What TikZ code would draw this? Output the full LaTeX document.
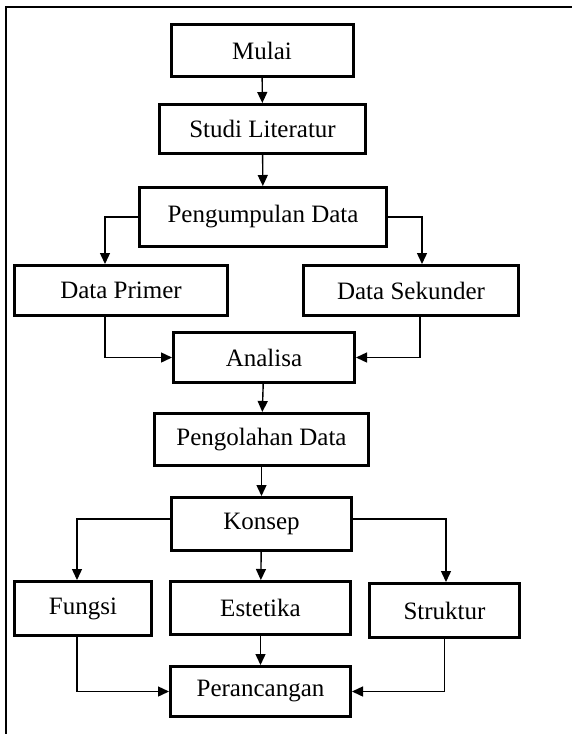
\documentclass[tikz,border=0pt]{standalone}
\usepackage{fontspec}
\setmainfont{Liberation Serif}
\usetikzlibrary{arrows.meta}
\usetikzlibrary{positioning}

\tikzset{
    box/.style={draw, line width=3pt, inner sep=0pt, font=\fontsize{25}{30}\selectfont},
    conn/.style={line width=1.4pt, -{Triangle[length=11pt,width=10pt]}}
}

\begin{document}
\begin{tikzpicture}[x=1pt,y=-1pt]
    \useasboundingbox (0,0) rectangle (571,734);
    \draw[line width=1.8pt] (580,7) -- (6,7) -- (6,745);

    \node[box, minimum width=182, minimum height=52] (mulai) at (262,50.5){Mulai};
    \node[box, minimum width=206, minimum height=49] (studi) at (262.5,129){Studi Literatur};
    \node[box, minimum width=247, minimum height=59] (kumpul) at (263,217){Pengumpulan Data};
    \node[box, minimum width=213, minimum height=50] (primer) at (121,290.5){Data Primer};
    \node[box, minimum width=215, minimum height=50] (sekunder) at (411,290.5){Data Sekunder};
    \node[box, minimum width=181, minimum height=50] (analisa) at (264,357.5){Analisa};
    \node[box, minimum width=214, minimum height=52] (olah) at (261.5,439.5){Pengolahan Data};
    \node[box, minimum width=180, minimum height=53] (konsep) at (261.5,524){Konsep};
    \node[box, minimum width=137, minimum height=54] (fungsi) at (83,608.5){Fungsi};
    \node[box, minimum width=180, minimum height=53] (estetika) at (260.5,608){Estetika};
    \node[box, minimum width=150, minimum height=54] (struktur) at (444.5,610.5){Struktur};
    \node[box, minimum width=180, minimum height=50] (rancang) at (260.5,691.5){Perancangan};

    \draw[conn] (mulai) -- (studi);
    \draw[conn] (studi) -- (kumpul);
    \draw[conn] (kumpul.west) -| ([xshift=-16pt]primer.north);
    \draw[conn] (kumpul.east) -| ([xshift=11pt]sekunder.north);
    \draw[conn] ([xshift=-16pt]primer.south) |- (analisa.west);
    \draw[conn] ([xshift=9pt]sekunder.south) |- (analisa.east);
    \draw[conn] (analisa) -- (olah);
    \draw[conn] (olah) -- (konsep);
    \draw[conn] ([yshift=5pt]konsep.west) -| ([xshift=-6pt]fungsi.north);
    \draw[conn] ([yshift=5pt]konsep.east) -| ([xshift=1.5pt]struktur.north);
    \draw[conn] (konsep) -- (estetika);
    \draw[conn] ([xshift=-6pt]fungsi.south) |- (rancang.west);
    \draw[conn] (estetika) -- (rancang);
    \draw[conn] (struktur.south) |- (rancang.east);
\end{tikzpicture}
\end{document}
